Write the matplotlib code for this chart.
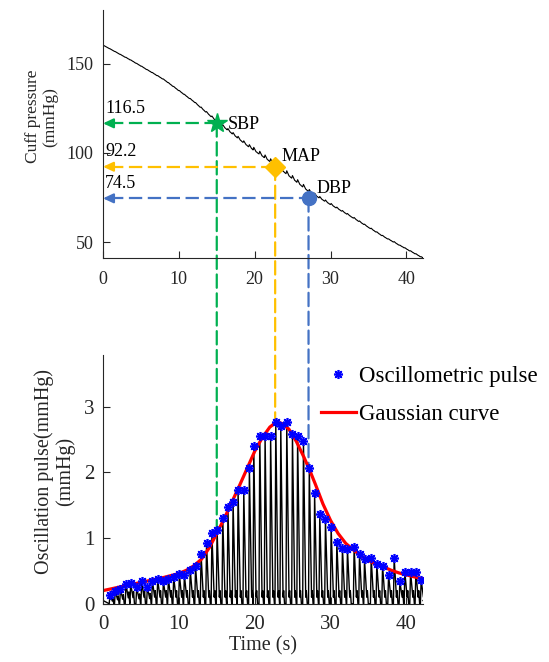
# Cuff pressure and oscillometric pulse with SBP / MAP / DBP markers

import numpy as np
import matplotlib.pyplot as plt
from matplotlib.patches import ConnectionPatch

plt.rcParams['font.family'] = ['Liberation Serif', 'DejaVu Serif']

# cuff pressure (s, mmHg)
cuff_t = [0, 4, 8, 12, 15, 19, 22.8, 27.2, 32.6, 37, 42.2]
cuff_p = [160.3, 151.0, 141.0, 128.5, 117.5, 104.0, 92.8, 78.0, 64.5, 53.0, 41.0]

# blood pressure points
bp_names = ['SBP', 'MAP', 'DBP']
bp_time = [15.0, 22.7, 27.1]
bp_value = [116.5, 92.2, 74.5]
bp_labels = ['116.5', '92.2', '74.5']
bp_colors = ['#00b050', '#ffc000', '#4472c4']
bp_markers = ['*', 'D', 'o']
bp_curve_end = [1.07, 2.76, 2.07]   # gaussian value where the dashed line stops

# oscillometric pulse peaks (s, mmHg)
pulse_t = [0.92, 1.62, 2.30, 3.03, 3.65, 4.44, 5.10, 5.85, 6.51, 7.21,
           7.96, 8.62, 9.32, 10.07, 10.73, 11.50, 12.20, 12.93, 13.65, 14.36,
           15.04, 15.79, 16.47, 17.15, 17.81, 18.56, 19.30, 19.88, 20.67, 21.37,
           22.10, 22.78, 23.44, 24.23, 24.98, 25.66, 26.43, 27.20, 27.90, 28.58,
           29.33, 30.08, 30.83, 31.57, 32.23, 33.11, 33.82, 34.48, 35.36, 36.10,
           36.86, 37.65, 38.39, 39.14, 39.80, 40.55, 41.25, 41.95]
pulse_v = [0.14, 0.20, 0.23, 0.30, 0.31, 0.25, 0.34, 0.26, 0.35, 0.37,
           0.34, 0.38, 0.41, 0.45, 0.44, 0.52, 0.57, 0.76, 0.92, 1.07,
           1.13, 1.31, 1.47, 1.55, 1.73, 1.73, 2.07, 2.40, 2.56, 2.55,
           2.55, 2.77, 2.70, 2.77, 2.59, 2.55, 2.48, 2.07, 1.68, 1.36,
           1.29, 1.17, 0.94, 0.85, 0.84, 0.87, 0.76, 0.68, 0.70, 0.61,
           0.58, 0.44, 0.70, 0.34, 0.48, 0.49, 0.49, 0.36]

# fitted gaussian curve
gauss_t = [0, 2, 4, 6, 8, 10, 11, 12, 13, 14, 15, 16, 17, 18, 19, 20, 21, 22,
           22.8, 23.5, 24.5, 25.5, 26.5, 27.3, 28, 29, 30, 31, 32, 33, 34, 35,
           36, 37, 38, 39, 40, 41, 42.2]
gauss_v = [0.20, 0.25, 0.30, 0.35, 0.40, 0.46, 0.51, 0.58, 0.68, 0.85, 1.07,
           1.30, 1.55, 1.80, 2.06, 2.32, 2.53, 2.69, 2.76, 2.75, 2.66, 2.47,
           2.23, 2.02, 1.82, 1.52, 1.27, 1.07, 0.92, 0.82, 0.73, 0.66, 0.60,
           0.56, 0.51, 0.47, 0.44, 0.41, 0.38]


def pulse_wave():
    # one beat shape per peak: steep rise, slower fall, small second bump
    t_pts, v_pts = [0.0], [0.05]
    for t, a in zip(pulse_t, pulse_v):
        bump = min(0.6 * a, 0.2)
        t_pts += [t - 0.1, t, t + 0.3, t + 0.38, t + 0.5]
        v_pts += [0.0, a, 0.5 * bump, bump, 0.0]
    t_pts.append(42.2)
    v_pts.append(0.05)
    return np.array(t_pts), np.array(v_pts)


def style(ax, size, xpad, ypad):
    ax.spines['top'].set_visible(False)
    ax.spines['right'].set_visible(False)
    for s in ('left', 'bottom'):
        ax.spines[s].set_color('#262626')
        ax.spines[s].set_linewidth(0.8)
    ax.tick_params(direction='in', length=5, width=0.8, colors='#262626',
                   labelsize=size)
    ax.tick_params(axis='x', pad=xpad)
    ax.tick_params(axis='y', pad=ypad)
    ax.set_facecolor('none')


def plot():
    fig = plt.figure(figsize=(5.49, 6.62), dpi=100)
    ax1 = fig.add_axes([0.1876, 0.610, 0.583, 0.375])
    ax2 = fig.add_axes([0.1876, 0.088, 0.583, 0.376])

    wave_t, wave_v = pulse_wave()

    # top panel: cuff pressure
    base = np.interp(wave_t, cuff_t, cuff_p)
    ax1.plot(wave_t, base + 0.7 * wave_v, color='black', lw=0.8)
    for i in range(3):
        c = bp_colors[i]
        ax1.plot([0.9, bp_time[i]], [bp_value[i]] * 2, color=c, lw=1.6,
                 ls=(0, (6, 2.5)))
        ax1.annotate('', xy=(0, bp_value[i]), xytext=(1.4, bp_value[i]),
                     arrowprops=dict(arrowstyle='-|>,head_length=0.6,head_width=0.28',
                                     color=c, lw=1.6, shrinkA=0, shrinkB=0))
        ms = 15 if bp_markers[i] == '*' else 10
        ax1.plot(bp_time[i], bp_value[i], marker=bp_markers[i], color=c,
                 ms=ms, ls='none', zorder=5)
        ax1.text(0.3, bp_value[i] + 3.5, bp_labels[i], fontsize=13,
                 ha='left', va='bottom')
    ax1.text(16.5, 116.0, 'SBP', fontsize=13, va='center')
    ax1.text(23.6, 98.0, 'MAP', fontsize=13, va='center')
    ax1.text(28.2, 80.0, 'DBP', fontsize=13, va='center')

    ax1.set_xlim(0, 42.2)
    ax1.set_ylim(41, 180)
    ax1.set_xticks([0, 10, 20, 30, 40])
    ax1.set_yticks([50, 100, 150])
    ax1.set_ylabel('Cuff pressure\n(mmHg)', fontsize=12.5, color='#262626',
                   linespacing=1.1)
    ax1.yaxis.set_label_coords(-0.14, 0.57)
    style(ax1, 13, 9, 7)

    # bottom panel: oscillation pulse
    ax2.plot(wave_t, wave_v, color='black', lw=1.0)
    ax2.plot(gauss_t, gauss_v, color='red', lw=2.3, label='Gaussian curve')
    ax2.plot(pulse_t, pulse_v, ls='none', marker=(8, 2, 0), ms=6.5, mew=1.2,
             color='blue', label='Oscillometric pulse', zorder=5)
    ax2.set_xlim(0, 42.2)
    ax2.set_ylim(0, 3.79)
    ax2.set_xticks([0, 10, 20, 30, 40])
    ax2.set_yticks([0, 1, 2, 3])
    ax2.set_xlabel('Time (s)', fontsize=14.5, color='#262626')
    ax2.xaxis.set_label_coords(0.5, -0.13)
    ax2.set_ylabel('Oscillation pulse(mmHg)\n(mmHg)', fontsize=14.5,
                   color='#262626', linespacing=1.05)
    ax2.yaxis.set_label_coords(-0.088, 0.53)
    style(ax2, 15, 8, 6)

    handles, labels = ax2.get_legend_handles_labels()
    fig.legend(handles[::-1], labels[::-1], loc='upper left',
               bbox_to_anchor=(0.585, 0.447), frameon=False, fontsize=16.5,
               handlelength=1.5, handletextpad=0.15, labelspacing=0.75,
               borderaxespad=0, borderpad=0)

    # dashed lines joining the two panels
    for i in range(3):
        con = ConnectionPatch(xyA=(bp_time[i], bp_value[i]), coordsA=ax1.transData,
                              xyB=(bp_time[i], bp_curve_end[i]), coordsB=ax2.transData,
                              color=bp_colors[i], lw=1.6, ls=(0, (6, 2.5)))
        con.set_zorder(-1)
        fig.add_artist(con)

    fig.savefig('out.png', dpi=100, facecolor='white')


plot()
